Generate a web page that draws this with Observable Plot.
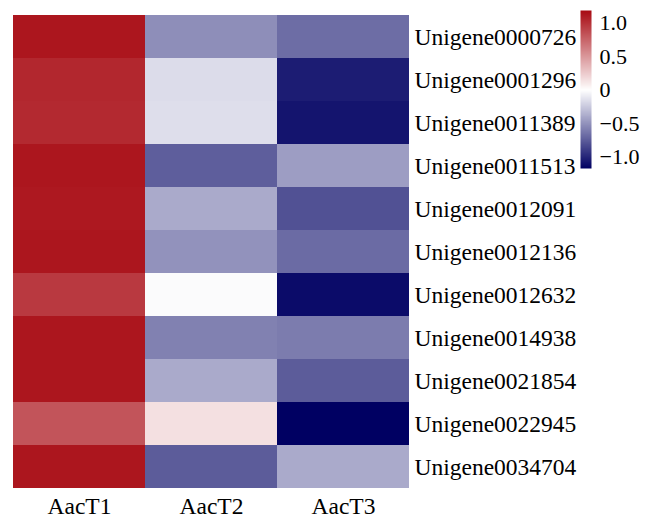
<!DOCTYPE html>
<html>
<head>
<meta charset="utf-8">
<script src="https://cdn.jsdelivr.net/npm/d3@7"></script>
<script src="https://cdn.jsdelivr.net/npm/@observablehq/plot@0.6"></script>
<style>
  html, body { margin: 0; padding: 0; background: #fff; }
  #chart { position: relative; width: 655px; height: 518px; }
  #chart svg { position: absolute; top: 0; }
  #chart svg, #chart svg text {
    font-family: "Liberation Serif", "Times New Roman", "DejaVu Serif", serif !important;
  }
</style>
</head>
<body>
<div id="chart"></div>
<script>
// Row-scaled expression of each unigene across the three samples
const genes = [
  "Unigene0000726", "Unigene0001296", "Unigene0011389", "Unigene0011513",
  "Unigene0012091", "Unigene0012136", "Unigene0012632", "Unigene0014938",
  "Unigene0021854", "Unigene0022945", "Unigene0034704"
];
const samples = ["AacT1", "AacT2", "AacT3"];
const aacT1 = [1.13, 1.05, 1.04, 1.13, 1.12, 1.13, 0.96, 1.13, 1.13, 0.83, 1.13];
const aacT2 = [-0.52, -0.16, -0.15, -0.74, -0.39, -0.50, -0.02, -0.58, -0.39, 0.15, -0.75];
const aacT3 = [-0.67, -1.04, -1.08, -0.45, -0.80, -0.68, -1.12, -0.60, -0.75, -1.17, -0.39];
const legendTicks = [-1, -0.5, 0, 0.5, 1];

const series = [aacT1, aacT2, aacT3];
const cells = genes.flatMap((gene, i) =>
  samples.map((sample, j) => ({gene, sample, value: series[j][i]}))
);

const colorScale = {
  type: "linear",
  domain: [-1.17, 0, 1.19],
  range: ["#000062", "#ffffff", "#a80a12"],
  interpolate: "rgb"
};

const heatmap = Plot.plot({
  width: 655,
  height: 518,
  marginLeft: 12,
  marginRight: 245,
  marginTop: 10,
  marginBottom: 25,
  style: {fontSize: "23.5px", background: "transparent", overflow: "visible"},
  x: {domain: samples, padding: 0, label: null, tickSize: 0, tickPadding: 4},
  y: {domain: genes, padding: 0, label: null, axis: "right", tickSize: 0, tickPadding: 4},
  color: colorScale,
  marks: [
    Plot.cell(cells, {x: "sample", y: "gene", fill: "value", inset: 0})
  ]
});

// Vertical colour bar with its own value axis
const legend = Plot.plot({
  width: 80,
  height: 518,
  marginLeft: 5,
  marginRight: 64,
  marginTop: 10,
  marginBottom: 350,
  style: {fontSize: "22px", background: "transparent", overflow: "visible"},
  x: {domain: [0, 1], axis: null},
  y: {
    domain: [-1.17, 1.19],
    axis: "right",
    ticks: legendTicks,
    tickSize: 0,
    tickPadding: 8,
    tickFormat: d => d === 0 ? "0" : d3.format(".1f")(d),
    label: null
  },
  color: colorScale,
  marks: [
    Plot.raster({
      x1: 0, x2: 1, y1: -1.17, y2: 1.19,
      width: 1, height: 240,
      fill: (x, y) => y,
      imageRendering: "auto"
    })
  ]
});
legend.style.left = "575px";

const chart = document.getElementById("chart");
chart.appendChild(heatmap);
chart.appendChild(legend);
</script>
</body>
</html>
